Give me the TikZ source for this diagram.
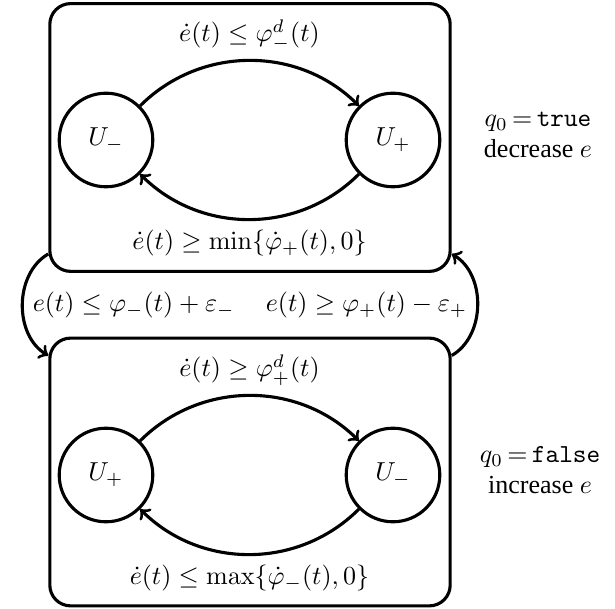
\documentclass[tikz,border=0pt]{standalone}
\usepackage{amsmath, amssymb}
\usepackage[no-math]{fontspec}
\setmainfont{Liberation Serif}
\usetikzlibrary{positioning}

\begin{document}
\begin{tikzpicture}[>=to, x=0.01352cm, y=0.01352cm, very thick,
    modebox/.style={draw, rounded corners=8pt, minimum width=154pt, minimum height=103pt},
    modecirc/.style={draw, circle, minimum size=36pt, inner sep=0pt}]
    \useasboundingbox (0,0) rectangle (615,609);
    % 1. Hai khung che do
    \node[modebox] (top) at (250,471.5) {};
    \node[modebox] (bot) at (250,137) {};

    % 2. Cac trang thai
    \node[modecirc] (tm) at (106,469) {$U_-$};
    \node[modecirc] (tp) at (393,469) {$U_+$};
    \node[modecirc] (bp) at (106,134) {$U_+$};
    \node[modecirc] (bm) at (393,134) {$U_-$};

    % 3. Chuyen trong khung
    \draw[->] (tm) to[bend left=45] node[above] (ltopa) {$\dot e(t) \le \varphi^d_-(t)$} (tp);
    \draw[->] (tp) to[bend left=45] node[below] (ltopb) {$\dot e(t) \ge \min\{\dot\varphi_+(t),0\}$} (tm);
    \draw[->] (bp) to[bend left=45] node[above] (lbota) {$\dot e(t) \ge \varphi^d_+(t)$} (bm);
    \draw[->] (bm) to[bend left=45] node[below] (lbotb) {$\dot e(t) \le \max\{\dot\varphi_-(t),0\}$} (bp);

    % 4. Chuyen giua hai khung
    \draw[->] (top.210) to[bend right=60] node[right] (cdown) {$e(t) \le \varphi_-(t) + \varepsilon_-$} (bot.150);
    \draw[->] (bot.30) to[bend right=60] node[left] (cup) {$e(t) \ge \varphi_+(t) - \varepsilon_+$} (top.330);

    % 5. Ghi chu ben phai
    \node[align=center] (qtrue) at (538,474) {$q_0\,{=}\,\texttt{true}$\\decrease $e$};
    \node[align=center] (qfalse) at (540,139) {$q_0\,{=}\,\texttt{false}$\\increase $e$};
\end{tikzpicture}
\end{document}
